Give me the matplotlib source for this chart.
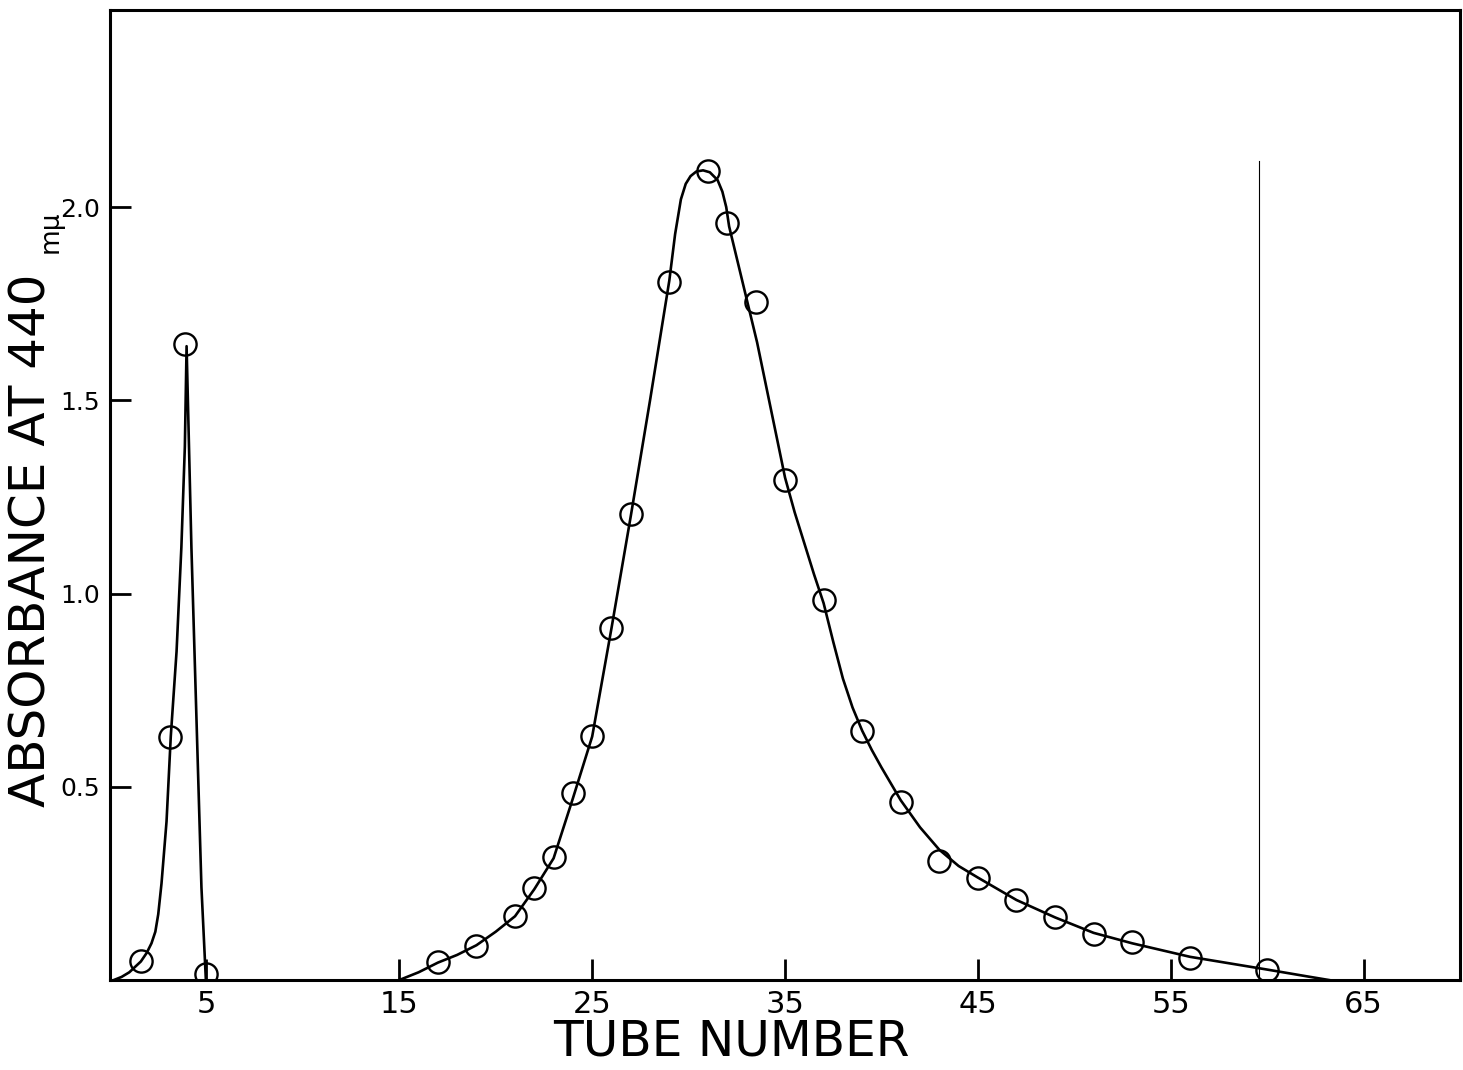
import matplotlib
matplotlib.use("Agg")
import matplotlib.pyplot as plt

# measured points (tube number, absorbance)
peak1_x = [1.6, 3.1, 3.9, 5.0]
peak1_y = [0.05, 0.63, 1.645, 0.015]

peak2_x = [17, 19, 21, 22, 23, 24, 25, 26, 27, 29, 31, 32, 33.5, 35, 37, 39, 41, 43, 45, 47, 49, 51, 53, 56, 60]
peak2_y = [0.047, 0.088, 0.166, 0.238, 0.319, 0.484, 0.632, 0.91, 1.205, 1.806, 2.093, 1.959, 1.754,
           1.295, 0.982, 0.645, 0.461, 0.308, 0.264, 0.207, 0.163, 0.119, 0.098, 0.057, 0.026]

# hand drawn curves
curve1_x = [0.2, 0.6, 1.0, 1.6, 1.9, 2.15, 2.35, 2.5, 2.67, 2.93, 3.15, 3.45, 3.7, 3.88, 3.97, 4.22, 4.74, 4.97]
curve1_y = [0.0, 0.008, 0.02, 0.048, 0.07, 0.095, 0.125, 0.17, 0.25, 0.41, 0.63, 0.85, 1.12, 1.38, 1.64, 1.12, 0.24, 0.0]

curve2_x = [15.0, 16, 17, 18, 19, 20, 21, 22, 23, 24, 25, 26, 27, 28, 29, 29.3, 29.6, 29.85, 30.1, 30.4,
            30.75, 31.1, 31.5, 31.75, 31.95, 32.1, 33.55, 35, 35.5, 36, 36.5, 37, 37.5, 38, 38.5, 39,
            39.5, 40, 41, 42, 43, 44, 45, 47, 49, 51, 53, 56, 60, 62, 63.2]
curve2_y = [0.0, 0.02, 0.045, 0.065, 0.09, 0.125, 0.165, 0.235, 0.315, 0.47, 0.63, 0.91, 1.2, 1.5, 1.81,
            1.93, 2.02, 2.06, 2.08, 2.092, 2.095, 2.09, 2.07, 2.04, 2.0, 1.95, 1.65, 1.3, 1.21, 1.13,
            1.05, 0.975, 0.875, 0.78, 0.705, 0.645, 0.595, 0.55, 0.465, 0.395, 0.337, 0.295, 0.265,
            0.207, 0.162, 0.122, 0.095, 0.06, 0.027, 0.01, 0.0]

xticks = [5, 15, 25, 35, 45, 55, 65]
yticks = [0.5, 1.0, 1.5, 2.0]
ytick_labels = ["0.5", "1.0", "1.5", "2.0"]
marker_line_x = 59.6
marker_line_top = 2.12

fig = plt.figure(figsize=(14.63, 10.70), dpi=100)
ax = fig.add_axes([0.0752, 0.0841, 0.9228, 0.9066])

ax.plot(curve1_x, curve1_y, color="black", lw=1.9, zorder=2)
ax.plot(curve2_x, curve2_y, color="black", lw=1.9, zorder=2)
ax.plot(peak1_x, peak1_y, "o", ms=16, mfc="none", mec="black", mew=1.7, zorder=3)
ax.plot(peak2_x, peak2_y, "o", ms=16, mfc="none", mec="black", mew=1.7, zorder=3)
ax.plot([marker_line_x, marker_line_x], [0, marker_line_top], color="black", lw=0.8)

ax.set_xlim(0, 70)
ax.set_ylim(0, 2.51)
ax.set_xticks(xticks)
ax.set_xticklabels([str(t) for t in xticks], fontsize=22)
ax.set_yticks(yticks)
ax.set_yticklabels(ytick_labels, fontsize=18)
ax.tick_params(direction="in", length=15, width=2, pad=7)
for s in ax.spines.values():
    s.set_linewidth(2.2)

fig.text(0.5, 0.004, "TUBE NUMBER", fontsize=35, ha="center", va="bottom")
fig.text(0.0215, 1 - 540 / 1070, "ABSORBANCE AT 440", fontsize=36,
         rotation=90, ha="center", va="center")
fig.text(0.0345, 1 - 232 / 1070, "mμ", fontsize=19,
         rotation=90, ha="center", va="center")

fig.savefig("out.png", dpi=100)
